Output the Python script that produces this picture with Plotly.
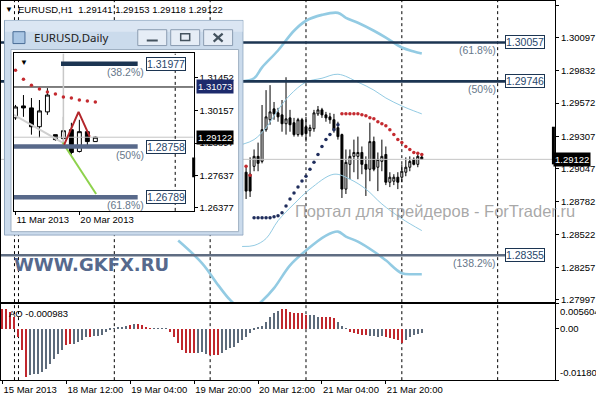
import plotly.graph_objects as go

# ------------------------------------------------------------------ H1 chart data (bar index = hourly bar)
h1_bars = list(range(61, 106))
h1_open = [1.29019, 1.29003, 1.29066, 1.29146, 1.29106, 1.29359, 1.29439, 1.29526, 1.29494, 1.29478,
           1.29407, 1.29454, 1.29415, 1.29320, 1.29439, 1.29383, 1.29351, 1.29367, 1.29486, 1.29518,
           1.29478, 1.29462, 1.29439, 1.29375, 1.29320, 1.28884, 1.29082, 1.29146, 1.29146, 1.29177,
           1.29082, 1.29043, 1.29264, 1.29059, 1.29106, 1.29161, 1.28939, 1.28947, 1.28979, 1.28979,
           1.29019, 1.29059, 1.29122, 1.29082, 1.29141]
h1_high = [1.29066, 1.29138, 1.29201, 1.29256, 1.29557, 1.29676, 1.29716, 1.29581, 1.29534, 1.29597,
           1.29779, 1.29518, 1.29454, 1.29454, 1.29454, 1.29462, 1.29399, 1.29518, 1.29549, 1.29534,
           1.29502, 1.29494, 1.29486, 1.29423, 1.29328, 1.29201, 1.29201, 1.29280, 1.29304, 1.29225,
           1.29146, 1.29415, 1.29304, 1.29177, 1.29280, 1.29225, 1.29019, 1.29003, 1.29019, 1.29082,
           1.29138, 1.29146, 1.29138, 1.29161, 1.29153]
h1_low = [1.28805, 1.28821, 1.29027, 1.29027, 1.29090, 1.29343, 1.29399, 1.29439, 1.29423, 1.29343,
          1.29320, 1.29343, 1.29304, 1.29304, 1.29304, 1.29264, 1.29304, 1.29343, 1.29470, 1.29454,
          1.29423, 1.29407, 1.29335, 1.29280, 1.28813, 1.28845, 1.28963, 1.29019, 1.28963, 1.29003,
          1.28829, 1.28947, 1.29027, 1.28868, 1.29027, 1.28916, 1.28900, 1.28916, 1.28884, 1.28939,
          1.28987, 1.29027, 1.29074, 1.29059, 1.29118]
h1_close = [1.28868, 1.28868, 1.29146, 1.29090, 1.29359, 1.29462, 1.29502, 1.29486, 1.29462, 1.29407,
            1.29446, 1.29399, 1.29320, 1.29439, 1.29320, 1.29328, 1.29375, 1.29494, 1.29518, 1.29478,
            1.29454, 1.29439, 1.29359, 1.29304, 1.28884, 1.29098, 1.29146, 1.29177, 1.29177, 1.29082,
            1.29043, 1.29264, 1.29043, 1.29122, 1.29146, 1.28939, 1.28979, 1.28979, 1.28939, 1.29027,
            1.29059, 1.29106, 1.29082, 1.29146, 1.29122]

# Parabolic SAR
sar_up_bars = list(range(63, 85))
sar_up = [1.28654, 1.28654, 1.28654, 1.28654, 1.28654, 1.28662, 1.28670, 1.28694, 1.28749, 1.28805,
          1.28852, 1.28900, 1.28948, 1.28987, 1.29043, 1.29098, 1.29161, 1.29225, 1.29280, 1.29320,
          1.29359, 1.29399]
sar_dn_bars = [61, 62] + list(range(85, 106))
sar_dn = [1.29066, 1.28995,
          1.29486, 1.29486, 1.29486, 1.29486, 1.29486, 1.29478, 1.29470, 1.29454, 1.29446, 1.29423,
          1.29407, 1.29391, 1.29359, 1.29320, 1.29280, 1.29256, 1.29225, 1.29201, 1.29177, 1.29170,
          1.29161]

# Envelope (thick) and Bollinger (thin) bands
env_up_bars = [60, 63, 65, 69, 73, 76, 80, 84, 86, 89, 93, 96, 100, 103, 105]
env_up = [1.29747, 1.29771, 1.29858, 1.29993, 1.30151, 1.30231, 1.30278, 1.30294, 1.30254, 1.30215,
          1.30151, 1.30096, 1.30017, 1.29985, 1.29969]
env_lo_bars = [44, 50, 54, 57, 60, 62, 65, 68, 72, 76, 81, 84, 86, 89, 93, 96, 100, 103, 105]
env_lo = [1.28472, 1.28290, 1.28116, 1.27997, 1.27918, 1.27918, 1.27989, 1.28092, 1.28274, 1.28393,
          1.28512, 1.28544, 1.28504, 1.28464, 1.28385, 1.28314, 1.28211, 1.28203, 1.28203]
bb_up_bars = [60, 63, 66, 69, 72, 76, 80, 84, 89, 93, 96, 100, 103, 105]
bb_up = [1.29241, 1.29280, 1.29375, 1.29518, 1.29637, 1.29740, 1.29771, 1.29803, 1.29740, 1.29676,
         1.29613, 1.29549, 1.29510, 1.29486]
bb_lo_bars = [60, 63, 66, 69, 73, 77, 83, 87, 91, 95, 100, 105]
bb_lo = [1.28425, 1.28433, 1.28488, 1.28631, 1.28765, 1.28884, 1.29003, 1.28963, 1.28884, 1.28765,
         1.28647, 1.28552]

# Fibonacci levels on H1
fib_levels = [1.30057, 1.29746, 1.28355]
fib_texts = ["1.30057", "1.29746", "1.28355"]
fib_names = ["(61.8%)", "(50%)", "(138.2%)"]
fib_start_bar = -0.4
fib_end_bar = 125.9

last_price = 1.29122
price_ticks = [1.30357, 1.30097, 1.29832, 1.29572, 1.29307, 1.29047, 1.28782, 1.28522, 1.28257, 1.27997]
date_tick_bars = [0, 16, 32, 48, 64, 80, 96]
date_tick_labels = ["15 Mar 2013", "18 Mar 12:00", "19 Mar 04:00", "19 Mar 20:00",
                    "20 Mar 12:00", "21 Mar 04:00", "21 Mar 20:00"]
day_separators = [3, 4, 28, 52, 76, 100, 124]

# Awesome Oscillator
ao_bars = list(range(0, 106))
ao_values = [0.00435, 0.00435, 0.00389, 0.00275, -0.00183, -0.00481, -0.01099, -0.01053, -0.01030, -0.01030,
             -0.00985, -0.00916, -0.00801, -0.00687, -0.00572, -0.00481, -0.00366, -0.00344, -0.00344, -0.00298,
             -0.00252, -0.00183, -0.00183, -0.00160, -0.00160, -0.00137, -0.00069, -0.00023, 0.00011, 0.00046,
             0.00046, 0.00069, 0.00092, 0.00114, 0.00114, 0.00092, 0.00023, 0.00011, 0.00011, 0.00011,
             0.00011, 0.00011, -0.00069, -0.00183, -0.00321, -0.00481, -0.00550, -0.00550, -0.00550, -0.00550,
             -0.00527, -0.00573, -0.00595, -0.00595, -0.00595, -0.00550, -0.00481, -0.00435, -0.00412, -0.00321,
             -0.00252, -0.00183, -0.00092, -0.00023, 0.00023, 0.00069, 0.00160, 0.00275, 0.00366, 0.00412,
             0.00435, 0.00435, 0.00389, 0.00366, 0.00366, 0.00344, 0.00298, 0.00298, 0.00298, 0.00275,
             0.00275, 0.00275, 0.00275, 0.00252, 0.00160, 0.00069, 0.00011, -0.00069, -0.00092, -0.00114,
             -0.00137, -0.00137, -0.00160, -0.00160, -0.00183, -0.00160, -0.00183, -0.00206, -0.00229, -0.00252,
             -0.00330, -0.00250, -0.00190, -0.00150, -0.00120, -0.00098]
ao_red_bars = [0, 1, 2, 3, 4, 5, 6, 16, 17, 22, 32, 34, 35, 36, 37, 42, 43, 44, 45, 46, 47, 48,
               52, 53, 54, 70, 71, 72, 73, 74, 75, 76, 80, 81, 82, 83, 87, 88, 89, 90, 91,
               96, 97, 98, 99, 100]
ao_max, ao_min = 0.005604, -0.0118
ao_current = "-0.000983"

# ------------------------------------------------------------------ Daily window data
d_idx = list(range(11))
d_open = [1.29875, 1.30337, 1.30260, 1.29529, 1.30106, 1.29221, 1.29067, 1.29414, 1.28567, 1.29337, 1.28952]
d_high = [1.30375, 1.30760, 1.30644, 1.30567, 1.31029, 1.29221, 1.29914, 1.29683, 1.29798, 1.29337, 1.29144]
d_low = [1.29798, 1.29914, 1.29221, 1.29106, 1.29990, 1.28990, 1.28837, 1.28452, 1.28529, 1.28760, 1.28952]
d_close = [1.30298, 1.30260, 1.29529, 1.30144, 1.30760, 1.29029, 1.29375, 1.28529, 1.29337, 1.28952, 1.29122]
d_sar = [1.31721, 1.31375, 1.31144, 1.30990, 1.30875, 1.30798, 1.30683, 1.30644, 1.30567, 1.30529, 1.30490]
d_zigzag_x = [6.1, 7.9, 9.3]
d_zigzag_y = [1.28837, 1.30106, 1.29144]
d_trend_grey_x = [-0.2, 5.9]
d_trend_grey_y = [1.29990, 1.28914]
d_trend_green_x = [5.9, 10.1]
d_trend_green_y = [1.28914, 1.26914]
d_fib_levels = [1.31977, 1.28758, 1.26789]
d_fib_texts = ["1.31977", "1.28758", "1.26789"]
d_fib_names = ["(38.2%)", "(50%)", "(61.8%)"]
d_fib_start = [5.7, -0.2, -0.2]
d_fib_end = 15.3
d_fib_label_x = 16.3
d_price_ticks = [1.31452, 1.30157, 1.28897, 1.27637, 1.26377]
d_date_ticks = [0, 8]
d_date_labels = ["11 Mar 2013", "20 Mar 2013"]
d_separator = 20
d_anchor_x = 6
d_hline = 1.31073
d_range = [1.26260, 1.32375]

# ------------------------------------------------------------------ geometry helpers (pixels -> paper)
W, H = 596, 400
def px(x):
    return x / W
def py(y):
    return 1 - y / H

FONT = "Liberation Sans"
NAVY = "#1c3552"
LABEL = "#27466b"
PCT = "#66778a"
BAND = "#93cbe3"
TICK = dict(family=FONT, size=9.5, color="black")

fig = go.Figure()

# ---------------- main H1 chart
fig.add_trace(go.Scatter(x=[-0.375, 138.375], y=[last_price, last_price], mode="lines",
                         line=dict(color="#c4c4c4", width=1), hoverinfo="skip"))
for bx, by, w in [(env_up_bars, env_up, 2.6), (env_lo_bars, env_lo, 2.6),
                  (bb_up_bars, bb_up, 1), (bb_lo_bars, bb_lo, 1)]:
    fig.add_trace(go.Scatter(x=bx, y=by, mode="lines", line=dict(color=BAND, width=w, shape="spline"),
                             hoverinfo="skip"))
fib_colors = [NAVY, NAVY, "#5f6d82"]
for lvl, col in zip(fib_levels, fib_colors):
    fig.add_trace(go.Scatter(x=[fib_start_bar, fib_end_bar], y=[lvl, lvl], mode="lines",
                             line=dict(color=col, width=2.6), hoverinfo="skip"))
fig.add_trace(go.Candlestick(x=h1_bars, open=h1_open, high=h1_high, low=h1_low, close=h1_close,
                             increasing=dict(line=dict(color="black", width=1), fillcolor="white"),
                             decreasing=dict(line=dict(color="black", width=1), fillcolor="black"),
                             whiskerwidth=0, hoverinfo="skip"))
fig.add_trace(go.Scatter(x=sar_up_bars, y=sar_up, mode="markers",
                         marker=dict(color="#1f2d5c", size=3.5), hoverinfo="skip"))
fig.add_trace(go.Scatter(x=sar_dn_bars, y=sar_dn, mode="markers",
                         marker=dict(color="#c42a2f", size=3.5), hoverinfo="skip"))

# ---------------- AO panel
ao_colors = ["#c0272d" if b in ao_red_bars else "#5d6b7b" for b in ao_bars]
fig.add_trace(go.Bar(x=ao_bars, y=ao_values, xaxis="x2", yaxis="y2", width=0.3,
                     marker=dict(color=ao_colors, line=dict(width=0)), hoverinfo="skip"))

# ---------------- Daily window frame (axes x3/y3 in window-local pixels)
def rect(x0, y0, x1, y1):
    return [x0, x1, x1, x0, x0], [y0, y0, y1, y1, y0]
fx, fy = rect(0.5, 0.5, 239.5, 217.5)
fig.add_trace(go.Scatter(x=fx, y=fy, xaxis="x3", yaxis="y3", mode="lines", fill="toself",
                         fillcolor="#cbdbec", line=dict(color="#8ea5be", width=1), hoverinfo="skip"))
tx, ty = rect(1, 1, 239, 12)
fig.add_trace(go.Scatter(x=tx, y=ty, xaxis="x3", yaxis="y3", mode="lines", fill="toself",
                         fillcolor="#dbe6f3", line=dict(color="rgba(0,0,0,0)", width=0), hoverinfo="skip"))
ix, iy = rect(7, 30, 235, 214)
fig.add_trace(go.Scatter(x=ix, y=iy, xaxis="x3", yaxis="y3", mode="lines", fill="toself",
                         fillcolor="white", line=dict(color="#9fb0c2", width=1), hoverinfo="skip"))

# ---------------- Daily chart (x4/y4)
fig.add_trace(go.Scatter(x=[-0.2, 22.3], y=[last_price, last_price], xaxis="x4", yaxis="y4", mode="lines",
                         line=dict(color="#c4c4c4", width=1), hoverinfo="skip"))
fig.add_trace(go.Scatter(x=[-0.2, 22.3], y=[d_hline, d_hline], xaxis="x4", yaxis="y4", mode="lines",
                         line=dict(color="black", width=1), hoverinfo="skip"))
fig.add_trace(go.Scatter(x=[d_separator, d_separator], y=d_range, xaxis="x4", yaxis="y4", mode="lines",
                         line=dict(color="black", width=1, dash="3px,3px"), hoverinfo="skip"))
fig.add_trace(go.Scatter(x=[d_anchor_x, d_anchor_x], y=[d_range[1], d_fib_levels[1]], xaxis="x4", yaxis="y4",
                         mode="lines", line=dict(color="#c8c8c8", width=1.5), hoverinfo="skip"))
fig.add_trace(go.Scatter(x=d_trend_grey_x, y=d_trend_grey_y, xaxis="x4", yaxis="y4", mode="lines",
                         line=dict(color="#cfcfcf", width=2), hoverinfo="skip"))
fig.add_trace(go.Scatter(x=d_trend_green_x, y=d_trend_green_y, xaxis="x4", yaxis="y4", mode="lines",
                         line=dict(color="#8ed24c", width=2), hoverinfo="skip"))
d_fib_colors = [NAVY, "#58698a", "#58698a"]
for lvl, x0, col in zip(d_fib_levels, d_fib_start, d_fib_colors):
    fig.add_trace(go.Scatter(x=[x0, d_fib_end], y=[lvl, lvl], xaxis="x4", yaxis="y4", mode="lines",
                             line=dict(color=col, width=4.5), hoverinfo="skip"))
fig.add_trace(go.Scatter(x=d_zigzag_x, y=d_zigzag_y, xaxis="x4", yaxis="y4", mode="lines",
                         line=dict(color="#b3262b", width=2), hoverinfo="skip"))
fig.add_trace(go.Candlestick(x=d_idx, open=d_open, high=d_high, low=d_low, close=d_close,
                             xaxis="x4", yaxis="y4",
                             increasing=dict(line=dict(color="black", width=1), fillcolor="white"),
                             decreasing=dict(line=dict(color="black", width=1), fillcolor="black"),
                             whiskerwidth=0, hoverinfo="skip"))
fig.add_trace(go.Scatter(x=d_idx, y=d_sar, xaxis="x4", yaxis="y4", mode="markers",
                         marker=dict(color="#c42a2f", size=3.5), hoverinfo="skip"))

# ---------------- shapes
shapes = []
for b in day_separators:
    shapes.append(dict(type="line", xref="x", yref="paper", x0=b, x1=b, y0=py(383), y1=1, layer="below",
                       line=dict(color="black", width=1, dash="3px,3px")))
# window buttons (window-local pixels)
for bx0 in [134, 167, 200]:
    shapes.append(dict(type="rect", xref="x3", yref="y3", x0=bx0, x1=bx0 + 29, y0=10, y1=26,
                       fillcolor="#e6edf6", line=dict(color="#8b9cb1", width=1), layer="above"))
shapes.append(dict(type="rect", xref="x3", yref="y3", x0=143, x1=154, y0=20, y1=22,
                   fillcolor="#44535f", line=dict(width=0), layer="above"))
shapes.append(dict(type="rect", xref="x3", yref="y3", x0=177, x1=186, y0=14, y1=21,
                   fillcolor="rgba(0,0,0,0)", line=dict(color="#44535f", width=1.5), layer="above"))
shapes.append(dict(type="line", xref="x3", yref="y3", x0=210, x1=219, y0=14, y1=22,
                   line=dict(color="#44535f", width=2.2), layer="above"))
shapes.append(dict(type="line", xref="x3", yref="y3", x0=210, x1=219, y0=22, y1=14,
                   line=dict(color="#44535f", width=2.2), layer="above"))
shapes.append(dict(type="rect", xref="x3", yref="y3", x0=9, x1=21, y0=12, y1=24,
                   fillcolor="#a9c6e4", line=dict(color="#4a6d96", width=1), layer="above"))
# black spread bars at the price scales
shapes.append(dict(type="line", xref="x domain", yref="y", x0=0.997, x1=0.997, y0=1.29082, y1=1.29383,
                   line=dict(color="black", width=3), layer="above"))
shapes.append(dict(type="line", xref="x4 domain", yref="y4", x0=1.0, x1=1.0, y0=1.27567, y1=1.28337,
                   line=dict(color="black", width=3), layer="above"))

# ---------------- annotations
ann = []
ann.append(dict(xref="paper", yref="paper", x=px(2), y=py(9), xanchor="left", yanchor="middle",
                text="▼", showarrow=False, font=dict(family=FONT, size=8, color="black")))
ann.append(dict(xref="paper", yref="paper", x=px(15), y=py(9), xanchor="left", yanchor="middle",
                text="EURUSD,H1  1.29141 1.29153 1.29118 1.29122", showarrow=False,
                font=dict(family=FONT, size=9.5, color="black")))
for lvl, t, name in zip(fib_levels, fib_texts, fib_names):
    ann.append(dict(xref="x", yref="y", x=fib_end_bar, y=lvl, xanchor="left", yanchor="middle",
                    text=t, showarrow=False, bgcolor="white", bordercolor=NAVY, borderwidth=1, borderpad=0,
                    font=dict(family=FONT, size=10.5, color=LABEL)))
    ann.append(dict(xref="x", yref="y", x=fib_end_bar - 1.9, y=lvl, xanchor="right", yanchor="middle",
                    yshift=-8, text=name, showarrow=False, font=dict(family=FONT, size=10.5, color=PCT)))
ann.append(dict(xref="paper", yref="y", x=px(553), y=last_price, xanchor="left", yanchor="middle",
                text="1.29122", showarrow=False, bgcolor="black", borderpad=1,
                font=dict(family=FONT, size=9.5, color="white")))
ann.append(dict(xref="paper", yref="paper", x=px(435), y=py(212), xanchor="center", yanchor="middle",
                text="Портал для трейдеров - ForTrader.ru", showarrow=False,
                font=dict(family=FONT, size=16.5, color="rgba(140,140,140,0.75)")))
ann.append(dict(xref="paper", yref="paper", x=px(11), y=py(266), xanchor="left", yanchor="middle",
                text="<b>WWW.GKFX.RU</b>", showarrow=False,
                font=dict(family="DejaVu Sans", size=18, color="#56698d")))
# AO panel labels
ann.append(dict(xref="paper", yref="y2", x=px(6), y=ao_max, xanchor="left", yanchor="top", yshift=-2,
                text="AO " + ao_current, showarrow=False, font=dict(family=FONT, size=9.5, color="black")))
ann.append(dict(xref="paper", yref="y2", x=px(558), y=ao_max, xanchor="left", yanchor="top",
                text="0.005604", showarrow=False, font=TICK))
ann.append(dict(xref="paper", yref="y2", x=px(558), y=0, xanchor="left", yanchor="middle",
                text="0.00", showarrow=False, font=TICK))
ann.append(dict(xref="paper", yref="y2", x=px(558), y=ao_min, xanchor="left", yanchor="bottom",
                text="-0.01180", showarrow=False, font=TICK))
# window title
ann.append(dict(xref="x3", yref="y3", x=28, y=18, xanchor="left", yanchor="middle",
                text="EURUSD,Daily", showarrow=False, font=dict(family="Noto Sans", size=11.5, color="#222222")))
# daily chart labels
ann.append(dict(xref="x4 domain", yref="y4 domain", x=0.02, y=0.985, xanchor="left", yanchor="top",
                text="▼", showarrow=False, font=dict(family=FONT, size=8, color="black")))
for lvl, t, name in zip(d_fib_levels, d_fib_texts, d_fib_names):
    ann.append(dict(xref="x4", yref="y4", x=d_fib_label_x, y=lvl, xanchor="left", yanchor="middle",
                    text=t, showarrow=False, bgcolor="white", bordercolor=NAVY, borderwidth=1, borderpad=0,
                    font=dict(family=FONT, size=10.5, color=LABEL)))
    ann.append(dict(xref="x4", yref="y4", x=d_fib_label_x, y=lvl, xanchor="right", yanchor="middle",
                    yshift=-8, text=name, showarrow=False, font=dict(family=FONT, size=10.5, color=PCT)))
ann.append(dict(xref="paper", yref="y4", x=px(195), y=d_hline, xanchor="left", yanchor="middle",
                text="1.31073", showarrow=False, bgcolor="#1d2a6c", borderpad=1,
                font=dict(family=FONT, size=9.5, color="white")))
ann.append(dict(xref="paper", yref="y4", x=px(195), y=last_price, xanchor="left", yanchor="middle",
                text="1.29122", showarrow=False, bgcolor="black", borderpad=1,
                font=dict(family=FONT, size=9.5, color="white")))

fig.update_layout(
    width=W, height=H, margin=dict(l=0, r=0, t=0, b=0),
    paper_bgcolor="white", plot_bgcolor="rgba(0,0,0,0)", showlegend=False,
    font=dict(family=FONT, size=9.5, color="black"),
    shapes=shapes, annotations=ann, bargap=0,
    xaxis=dict(domain=[0, px(555)], range=[-0.375, 138.375], anchor="y", showgrid=False, zeroline=False,
               showline=True, mirror=True, linecolor="black", linewidth=1, showticklabels=False, ticks="",
               rangeslider=dict(visible=False), fixedrange=True),
    yaxis=dict(domain=[py(304), 1], range=[1.27981, 1.30389], anchor="x", side="right", showgrid=False,
               zeroline=False, showline=True, mirror=True, linecolor="black", linewidth=1,
               tickvals=price_ticks, ticktext=[f"{v:.5f}" for v in price_ticks], ticks="outside", ticklen=3,
               tickcolor="black", tickfont=TICK),
    xaxis2=dict(domain=[0, px(555)], range=[-0.375, 138.375], anchor="y2", showgrid=False, zeroline=False,
                showline=True, mirror=True, linecolor="black", linewidth=1,
                tickvals=date_tick_bars, ticktext=date_tick_labels, ticks="outside", ticklen=3, tickcolor="black",
                ticklabelposition="outside right", tickangle=0, tickfont=TICK),
    yaxis2=dict(domain=[py(383), py(306)], range=[ao_min, ao_max], anchor="x2", side="right", showgrid=False,
                zeroline=False, showline=True, mirror=True, linecolor="black", linewidth=1,
                tickvals=[ao_max, 0, ao_min], ticks="outside", ticklen=3, tickcolor="black",
                showticklabels=False),
    xaxis3=dict(domain=[px(3), px(243)], range=[0, 240], anchor="y3", visible=False),
    yaxis3=dict(domain=[py(237), py(19)], range=[218, 0], anchor="x3", visible=False),
    xaxis4=dict(domain=[px(13), px(193)], range=[-0.1875, 22.3125], anchor="y4", showgrid=False, zeroline=False,
                showline=True, mirror=True, linecolor="black", linewidth=1,
                tickvals=d_date_ticks, ticktext=d_date_labels, ticks="outside", ticklen=3, tickcolor="black",
                ticklabelposition="outside right", tickangle=0, tickfont=TICK,
                rangeslider=dict(visible=False)),
    yaxis4=dict(domain=[py(212), py(53)], range=d_range, anchor="x4", side="right", showgrid=False,
                zeroline=False, showline=True, mirror=True, linecolor="black", linewidth=1,
                tickvals=d_price_ticks, ticktext=[f"{v:.5f}" for v in d_price_ticks], ticks="outside",
                ticklen=3, tickcolor="black", tickfont=TICK),
)

fig.write_html("out.html", config={"displayModeBar": False},
               post_script="document.body.style.margin='0';document.body.style.padding='0';"
                           "document.body.style.overflow='hidden';")
